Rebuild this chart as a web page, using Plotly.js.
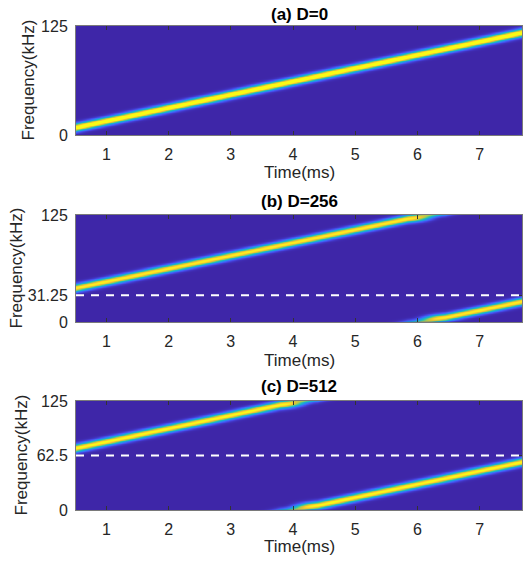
<!DOCTYPE html>
<html>
<head>
<meta charset="utf-8">
<script src="https://cdn.plot.ly/plotly-3.0.1.min.js"></script>
<style>
html,body{margin:0;padding:0;background:#fff;}
#chart{width:523px;height:562px;}
</style>
</head>
<body>
<div id="chart"></div>
<script>
// ---------- data ----------
const panelTitles = ['(a) D=0', '(b) D=256', '(c) D=512'];
const delaySamples = [0, 256, 512];          // chirp shift D (samples)
const chirpSamples = 1024;                    // chirp length N (samples)
const sampleRateKHz = 125;                    // fs
const bandwidthKHz = 125;                     // B (frequency axis 0..125 kHz)
const dashedFreqKHz = [null, 31.25, 62.5];    // B*D/N reference lines
const yTickVals = [[0, 125], [0, 31.25, 125], [0, 62.5, 125]];
const yTickText = [['0', '125'], ['0', '31.25', '125'], ['0', '62.5', '125']];
const xTickVals = [1, 2, 3, 4, 5, 6, 7];
const timeRangeMs = [0.512, 7.68];            // STFT frame centres
const windowHalfMs = [0.3];                   // effective half STFT window
const lineSigmaKHz = [3.0];                   // spectral line half-width
const peakLevel = [1.12, 0.97, 1.0];

// ---------- spectrogram of the (circularly shifted) chirp ----------
const T = chirpSamples / sampleRateKHz;       // ms
const slope = bandwidthKHz / T;               // kHz per ms
const nT = 448, nF = 260;
const times = [], freqs = [];
for (let i = 0; i < nT; i++) times.push(timeRangeMs[0] + (timeRangeMs[1] - timeRangeMs[0]) * i / (nT - 1));
for (let j = 0; j < nF; j++) freqs.push(bandwidthKHz * j / (nF - 1));

function hannFrac(x, h) {
  if (x <= -h) return 0;
  if (x >= h) return 1;
  return (x + h + (h / Math.PI) * Math.sin(Math.PI * x / h)) / (2 * h);
}
function gauss(df, s) {
  let v = 0;
  for (const k of [-1, 0, 1]) {
    const d = df + k * bandwidthKHz;
    v += Math.exp(-d * d / (2 * s * s));
  }
  return v;
}
function spectrogram(p) {
  const off = bandwidthKHz * delaySamples[p] / chirpSamples;
  const tw = (bandwidthKHz - off) / slope;     // wrap time
  const h = windowHalfMs[0], s = lineSigmaKHz[0];
  const z = [];
  for (let j = 0; j < nF; j++) z.push(new Array(nT));
  for (let i = 0; i < nT; i++) {
    const t = times[i];
    const x = tw - t;
    const wb = hannFrac(x, h), wa = 1 - wb;
    const midB = t + (-h + Math.min(x, h)) / 2;
    const midA = t + (Math.max(x, -h) + h) / 2;
    const fb = slope * midB + off;
    const fa = slope * midA + off - bandwidthKHz;
    for (let j = 0; j < nF; j++) {
      const f = freqs[j];
      let v = 0;
      if (wb > 0) v += wb * gauss(f - fb, s);
      if (wa > 0) v += wa * gauss(f - fa, s);
      z[j][i] = Math.min(1, peakLevel[p] * v);
    }
  }
  return z;
}

const parula = [
  [0.00, '#3e26a8'], [0.10, '#4648e6'], [0.20, '#3b6ef9'], [0.32, '#1e98e6'],
  [0.45, '#1bb7c4'], [0.57, '#4cc68f'], [0.68, '#9fca58'], [0.80, '#e3c234'],
  [0.90, '#fdd52c'], [1.00, '#f9fb14']
];

// ---------- layout ----------
const W = 523, H = 562;
const plotLeft = 76, plotRight = 522;
const panelPx = [[26, 135], [215, 322], [401, 510]]; // top,bottom in px
const titleY = [15, 201, 387];
const xTitleY = [173, 360, 546];
const yTitleX = [28, 16, 21];

const traces = [], annotations = [], shapes = [];
const layout = {
  width: W, height: H,
  margin: {l: 0, r: 0, t: 0, b: 0},
  paper_bgcolor: '#ffffff', plot_bgcolor: '#3e26a8',
  showlegend: false,
  font: {family: 'Liberation Sans, Arial, sans-serif', color: '#262626'}
};
const fontFam = 'Liberation Sans, Arial, sans-serif';

for (let p = 0; p < 3; p++) {
  const ax = p === 0 ? '' : String(p + 1);
  traces.push({
    type: 'heatmap', x: times, y: freqs, z: spectrogram(p),
    colorscale: parula, zmin: 0, zmax: 1, showscale: false,
    xaxis: 'x' + ax, yaxis: 'y' + ax, hoverinfo: 'skip'
  });
  const yd = [1 - panelPx[p][1] / H, 1 - panelPx[p][0] / H];
  layout['xaxis' + ax] = {
    domain: [plotLeft / W, plotRight / W], range: timeRangeMs, anchor: 'y' + ax,
    tickvals: xTickVals, ticks: 'inside', ticklen: 4, tickcolor: '#333',
    showline: true, linecolor: '#7a7a7a', linewidth: 1, mirror: 'ticks',
    showgrid: false, zeroline: false, ticklabelstandoff: 5,
    tickfont: {size: 16, family: fontFam, color: '#262626'}
  };
  layout['yaxis' + ax] = {
    domain: yd, range: [0, bandwidthKHz], anchor: 'x' + ax,
    tickvals: yTickVals[p], ticktext: yTickText[p], ticks: 'inside', ticklen: 4, tickcolor: '#333',
    showline: true, linecolor: '#7a7a7a', linewidth: 1, mirror: 'ticks',
    showgrid: false, zeroline: false, ticklabelstandoff: 4,
    tickfont: {size: 16, family: fontFam, color: '#262626'}
  };
  annotations.push({
    text: '<b>' + panelTitles[p] + '</b>', xref: 'paper', yref: 'paper',
    x: (plotLeft + plotRight) / 2 / W, y: 1 - titleY[p] / H, xanchor: 'center', yanchor: 'middle',
    showarrow: false, font: {size: 17, family: fontFam, color: '#000'}
  });
  annotations.push({
    text: 'Time(ms)', xref: 'paper', yref: 'paper',
    x: (plotLeft + plotRight) / 2 / W, y: 1 - xTitleY[p] / H, xanchor: 'center', yanchor: 'middle',
    showarrow: false, font: {size: 17, family: fontFam, color: '#262626'}
  });
  annotations.push({
    text: 'Frequency(kHz)', xref: 'paper', yref: 'paper', textangle: -90,
    x: yTitleX[p] / W, y: 1 - (panelPx[p][0] + panelPx[p][1]) / 2 / H, xanchor: 'center', yanchor: 'middle',
    showarrow: false, font: {size: 17, family: fontFam, color: '#262626'}
  });
  if (dashedFreqKHz[p] !== null) {
    shapes.push({
      type: 'line', xref: 'x' + ax, yref: 'y' + ax,
      x0: timeRangeMs[0], x1: timeRangeMs[1], y0: dashedFreqKHz[p], y1: dashedFreqKHz[p],
      line: {color: '#ffffff', width: 2, dash: '8px,7px'}
    });
  }
}
layout.annotations = annotations;
layout.shapes = shapes;

Plotly.newPlot('chart', traces, layout, {displayModeBar: false, staticPlot: true});
</script>
</body>
</html>
